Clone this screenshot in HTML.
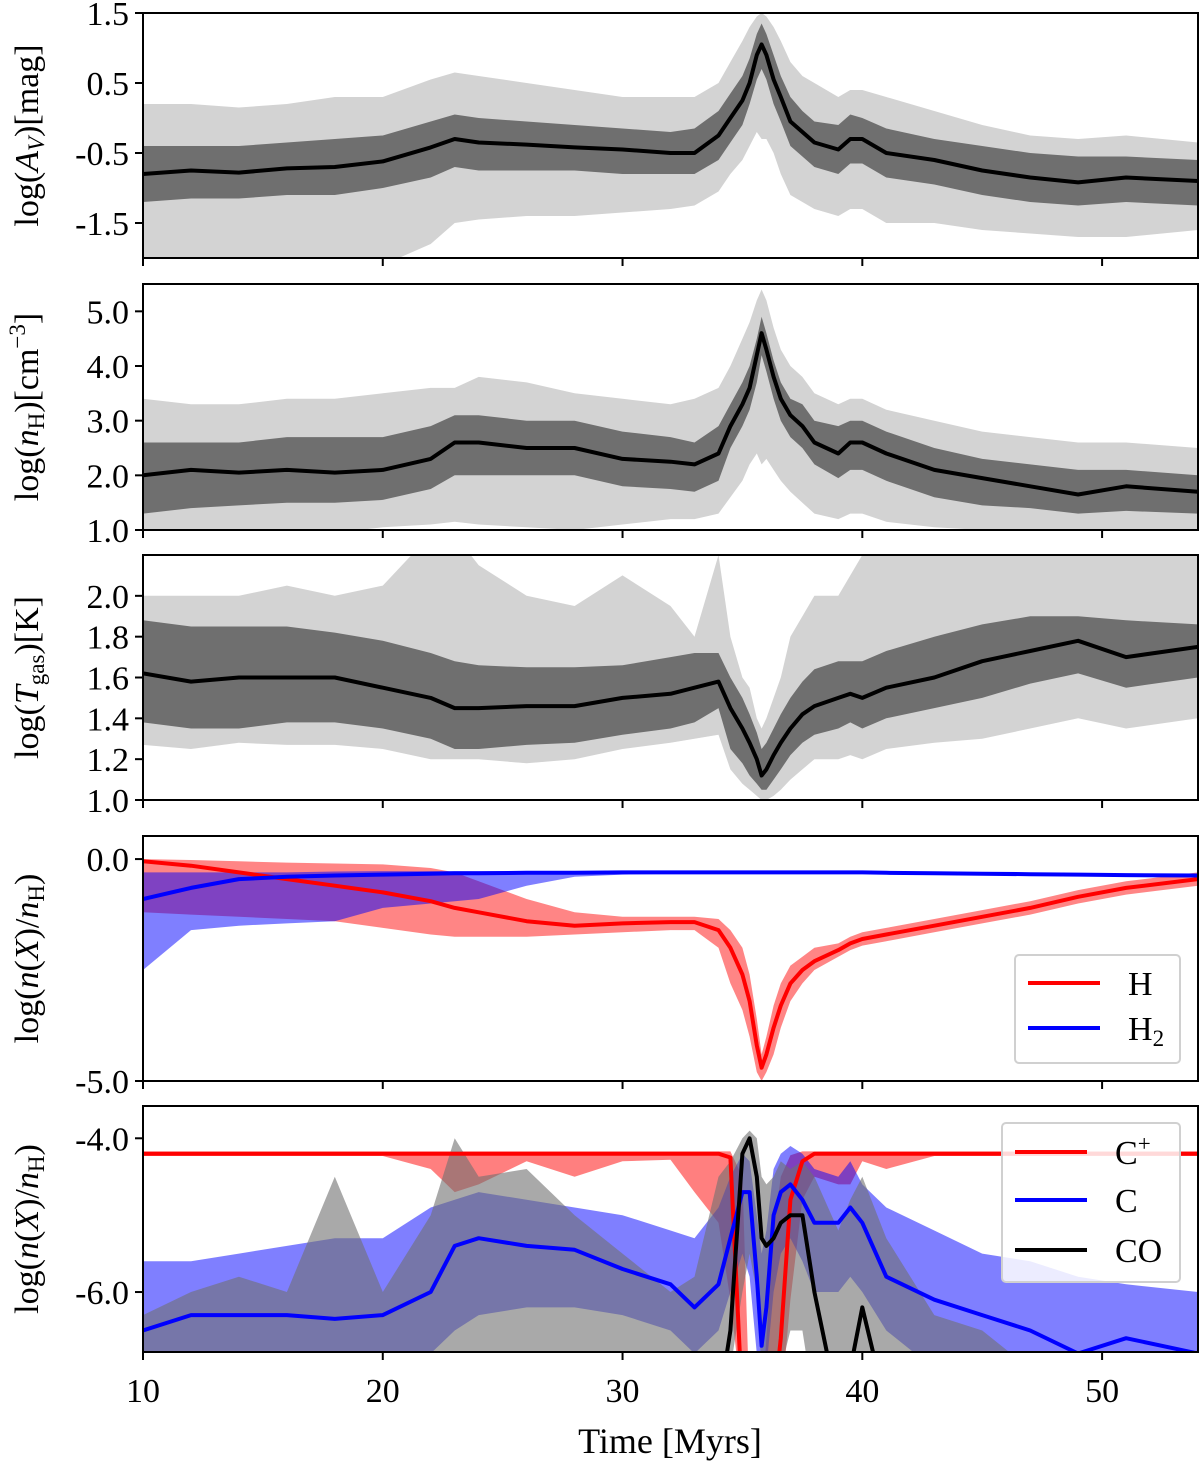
<!DOCTYPE html>
<html><head><meta charset="utf-8"><style>
html,body{margin:0;padding:0;background:#fff}
svg{display:block;font-family:"Liberation Serif",serif}
</style></head><body>
<svg id="chart" width="1200" height="1463" viewBox="0 0 1200 1463" xmlns="http://www.w3.org/2000/svg"></svg>
<script>
const times=[10,12,14,16,18,20,22,23,24,26,28,30,32,33,34,34.5,35,35.3,35.6,35.8,36,36.3,36.6,37,37.5,38,39,39.5,40,41,43,45,47,49,51,54];
const xTicks=[10,20,30,40,50];
// Panel 1: log Av
const avMed=[-0.8,-0.75,-0.78,-0.72,-0.7,-0.62,-0.42,-0.3,-0.35,-0.38,-0.42,-0.45,-0.5,-0.5,-0.25,0.0,0.25,0.5,0.9,1.05,0.9,0.55,0.3,-0.05,-0.2,-0.35,-0.45,-0.3,-0.3,-0.5,-0.6,-0.75,-0.85,-0.92,-0.85,-0.9];
const avInHi=[-0.4,-0.4,-0.4,-0.35,-0.3,-0.25,-0.05,0.05,0.0,-0.05,-0.1,-0.15,-0.2,-0.15,0.1,0.35,0.6,0.85,1.2,1.35,1.2,0.9,0.6,0.3,0.1,-0.05,-0.1,0.05,0.0,-0.15,-0.3,-0.4,-0.5,-0.55,-0.55,-0.6];
const avInLo=[-1.2,-1.15,-1.15,-1.1,-1.1,-1.0,-0.85,-0.7,-0.75,-0.75,-0.75,-0.8,-0.8,-0.8,-0.6,-0.35,-0.1,0.2,0.55,0.7,0.55,0.2,-0.05,-0.4,-0.55,-0.7,-0.8,-0.65,-0.65,-0.85,-0.95,-1.1,-1.2,-1.25,-1.2,-1.25];
const avOutHi=[0.2,0.2,0.15,0.2,0.3,0.3,0.55,0.65,0.6,0.5,0.4,0.3,0.3,0.3,0.5,0.8,1.1,1.3,1.45,1.5,1.45,1.3,1.1,0.8,0.6,0.5,0.3,0.4,0.4,0.3,0.1,-0.1,-0.25,-0.3,-0.25,-0.35];
const avOutLo=[-2.5,-2.4,-2.4,-2.3,-2.3,-2.1,-1.8,-1.5,-1.45,-1.4,-1.4,-1.35,-1.3,-1.25,-1.05,-0.8,-0.6,-0.4,-0.2,-0.3,-0.3,-0.5,-0.8,-1.1,-1.2,-1.3,-1.4,-1.3,-1.3,-1.5,-1.5,-1.6,-1.65,-1.7,-1.7,-1.6];
const avTicks=[1.5,0.5,-0.5,-1.5];
const avTickLabels=["1.5","0.5","-0.5","-1.5"];
// Panel 2: log nH
const nhMed=[2.0,2.1,2.05,2.1,2.05,2.1,2.3,2.6,2.6,2.5,2.5,2.3,2.25,2.2,2.4,2.9,3.3,3.6,4.2,4.6,4.3,3.8,3.4,3.1,2.9,2.6,2.4,2.6,2.6,2.4,2.1,1.95,1.8,1.65,1.8,1.7];
const nhInHi=[2.6,2.6,2.6,2.7,2.7,2.7,2.9,3.1,3.1,3.0,3.0,2.8,2.7,2.6,2.9,3.3,3.7,4.0,4.5,4.9,4.6,4.1,3.7,3.4,3.3,3.0,2.9,3.0,3.0,2.8,2.5,2.3,2.2,2.1,2.1,2.0];
const nhInLo=[1.3,1.4,1.45,1.5,1.5,1.55,1.75,2.0,2.0,2.0,2.0,1.8,1.75,1.7,1.9,2.5,2.9,3.2,3.7,4.2,3.9,3.4,3.0,2.7,2.5,2.2,1.95,2.1,2.1,1.9,1.6,1.45,1.4,1.3,1.35,1.3];
const nhOutHi=[3.4,3.3,3.3,3.4,3.4,3.5,3.6,3.6,3.8,3.7,3.5,3.4,3.3,3.4,3.6,4.0,4.5,4.8,5.2,5.4,5.2,4.7,4.3,4.0,3.8,3.5,3.3,3.4,3.4,3.2,3.0,2.8,2.7,2.6,2.6,2.5];
const nhOutLo=[0.9,0.95,1.0,1.0,0.95,1.05,1.1,1.15,1.1,1.05,1.0,1.1,1.2,1.2,1.3,1.6,1.9,2.2,2.4,2.2,2.3,2.1,1.9,1.7,1.5,1.3,1.2,1.3,1.3,1.15,1.05,1.0,1.0,1.0,1.0,1.0];
const nhTicks=[5,4,3,2,1];
const nhTickLabels=["5.0","4.0","3.0","2.0","1.0"];
// Panel 3: log Tgas
const tgMed=[1.62,1.58,1.6,1.6,1.6,1.55,1.5,1.45,1.45,1.46,1.46,1.5,1.52,1.55,1.58,1.45,1.35,1.28,1.2,1.12,1.15,1.22,1.28,1.35,1.42,1.46,1.5,1.52,1.5,1.55,1.6,1.68,1.73,1.78,1.7,1.75];
const tgInHi=[1.88,1.85,1.85,1.85,1.82,1.78,1.72,1.68,1.66,1.65,1.65,1.66,1.7,1.72,1.72,1.6,1.5,1.42,1.33,1.25,1.28,1.35,1.42,1.5,1.58,1.64,1.68,1.68,1.68,1.73,1.8,1.86,1.9,1.9,1.88,1.86];
const tgInLo=[1.38,1.35,1.35,1.38,1.38,1.35,1.3,1.25,1.25,1.27,1.28,1.32,1.35,1.38,1.45,1.25,1.18,1.12,1.08,1.05,1.05,1.1,1.15,1.22,1.28,1.32,1.35,1.38,1.35,1.4,1.45,1.5,1.57,1.62,1.55,1.6];
const tgOutHi=[2.0,2.0,2.0,2.05,2.0,2.05,2.3,2.3,2.15,2.0,1.95,2.1,1.95,1.8,2.2,1.8,1.6,1.55,1.4,1.35,1.4,1.5,1.6,1.8,1.9,2.0,2.0,2.1,2.2,2.2,2.3,2.3,2.3,2.3,2.2,2.3];
const tgOutLo=[1.27,1.25,1.28,1.27,1.27,1.25,1.2,1.2,1.2,1.18,1.2,1.25,1.28,1.3,1.32,1.15,1.08,1.05,1.02,1.0,1.0,1.02,1.05,1.1,1.15,1.2,1.2,1.22,1.2,1.25,1.28,1.3,1.35,1.4,1.35,1.4];
const tgTicks=[2.0,1.8,1.6,1.4,1.2,1.0];
const tgTickLabels=["2.0","1.8","1.6","1.4","1.2","1.0"];
// Panel 4: H, H2
const hMed=[-0.05,-0.15,-0.3,-0.45,-0.6,-0.75,-0.95,-1.1,-1.2,-1.4,-1.5,-1.45,-1.42,-1.42,-1.6,-2.0,-2.6,-3.2,-4.2,-4.7,-4.4,-3.8,-3.3,-2.8,-2.5,-2.3,-2.05,-1.9,-1.8,-1.7,-1.5,-1.3,-1.1,-0.85,-0.65,-0.45];
const hHi=[0,-0.02,-0.05,-0.08,-0.1,-0.12,-0.2,-0.3,-0.5,-0.9,-1.2,-1.3,-1.3,-1.3,-1.35,-1.6,-2.0,-2.6,-3.6,-4.4,-4.0,-3.3,-2.8,-2.4,-2.2,-2.0,-1.9,-1.75,-1.65,-1.55,-1.35,-1.15,-0.95,-0.7,-0.5,-0.3];
const hLo=[-1.2,-1.25,-1.3,-1.35,-1.4,-1.55,-1.7,-1.75,-1.75,-1.75,-1.7,-1.65,-1.6,-1.6,-2.0,-2.8,-3.4,-4.0,-4.8,-5.0,-4.8,-4.4,-3.8,-3.2,-2.8,-2.5,-2.2,-2.05,-1.95,-1.85,-1.65,-1.45,-1.25,-1.0,-0.8,-0.6];
const h2Med=[-0.9,-0.65,-0.45,-0.4,-0.37,-0.35,-0.33,-0.32,-0.32,-0.31,-0.31,-0.3,-0.3,-0.3,-0.3,-0.3,-0.3,-0.3,-0.3,-0.3,-0.3,-0.3,-0.3,-0.3,-0.3,-0.3,-0.3,-0.3,-0.3,-0.31,-0.32,-0.33,-0.34,-0.35,-0.36,-0.37];
const h2Hi=[-0.3,-0.3,-0.3,-0.3,-0.28,-0.27,-0.27,-0.27,-0.27,-0.27,-0.27,-0.27,-0.27,-0.27,-0.27,-0.27,-0.27,-0.27,-0.27,-0.27,-0.27,-0.27,-0.27,-0.27,-0.27,-0.27,-0.27,-0.27,-0.27,-0.28,-0.29,-0.3,-0.31,-0.32,-0.33,-0.34];
const h2Lo=[-2.5,-1.6,-1.5,-1.45,-1.4,-1.1,-1.0,-0.95,-0.9,-0.6,-0.4,-0.35,-0.33,-0.33,-0.33,-0.33,-0.33,-0.33,-0.33,-0.33,-0.33,-0.33,-0.33,-0.33,-0.33,-0.33,-0.33,-0.33,-0.33,-0.34,-0.35,-0.36,-0.37,-0.38,-0.39,-0.4];
const xhTicks=[0,-5];
const xhTickLabels=["0.0","-5.0"];
// Panel 5: C+, C, CO
const cpMed=[-4.2,-4.2,-4.2,-4.2,-4.2,-4.2,-4.2,-4.2,-4.2,-4.2,-4.2,-4.2,-4.2,-4.2,-4.2,-4.25,-7.5,-7.5,-7.5,-7.5,-7.5,-7.5,-6.6,-4.8,-4.3,-4.2,-4.2,-4.2,-4.2,-4.2,-4.2,-4.2,-4.2,-4.2,-4.2,-4.2];
const cpHi=[-4.17,-4.17,-4.17,-4.17,-4.17,-4.17,-4.17,-4.17,-4.17,-4.17,-4.17,-4.17,-4.17,-4.17,-4.17,-4.17,-4.5,-7.5,-7.5,-7.5,-6.6,-5.2,-4.5,-4.22,-4.17,-4.17,-4.17,-4.17,-4.17,-4.17,-4.17,-4.17,-4.17,-4.17,-4.17,-4.17];
const cpLo=[-4.23,-4.23,-4.23,-4.23,-4.23,-4.23,-4.4,-4.7,-4.6,-4.3,-4.5,-4.3,-4.28,-4.7,-5.1,-6.1,-7.5,-7.5,-7.5,-7.5,-7.5,-7.5,-7.5,-6.1,-4.8,-4.5,-4.6,-4.6,-4.3,-4.4,-4.23,-4.23,-4.23,-4.23,-4.23,-4.23];
const cMed=[-6.5,-6.3,-6.3,-6.3,-6.35,-6.3,-6.0,-5.4,-5.3,-5.4,-5.45,-5.7,-5.9,-6.2,-5.9,-5.3,-4.7,-4.7,-5.8,-6.7,-6.2,-5.0,-4.7,-4.6,-4.8,-5.1,-5.1,-4.9,-5.1,-5.8,-6.1,-6.3,-6.5,-6.8,-6.6,-6.8];
const cHi=[-5.6,-5.6,-5.5,-5.4,-5.3,-5.3,-4.9,-4.8,-4.7,-4.8,-4.9,-5.0,-5.2,-5.3,-4.9,-4.5,-4.2,-4.3,-5.0,-5.5,-5.2,-4.4,-4.2,-4.1,-4.2,-4.4,-4.5,-4.3,-4.6,-4.9,-5.2,-5.5,-5.6,-5.8,-5.9,-6.0];
const cLo=[-7.0,-7.0,-7.0,-7.0,-7.0,-7.0,-6.8,-6.5,-6.3,-6.2,-6.2,-6.3,-6.5,-6.8,-6.5,-6.0,-5.5,-5.8,-6.8,-7.0,-7.0,-6.0,-5.5,-5.3,-5.6,-6.0,-6.0,-5.8,-6.0,-6.5,-7.0,-7.0,-7.2,-7.3,-7.3,-7.3];
const coMed=[-7.5,-7.5,-7.5,-7.5,-7.5,-7.5,-7.5,-6.8,-6.8,-7.5,-7.5,-7.5,-7.5,-7.5,-7.5,-6.5,-4.2,-4.0,-4.5,-5.3,-5.4,-5.3,-5.1,-5.0,-5.0,-6.0,-7.5,-7.0,-6.2,-7.5,-7.5,-7.5,-7.5,-7.5,-7.5,-7.5];
const coHi=[-6.3,-6.0,-5.8,-6.0,-4.5,-6.0,-5.0,-4.0,-4.5,-4.4,-5.0,-5.5,-6.0,-5.8,-4.5,-4.3,-4.0,-3.9,-4.0,-4.5,-4.6,-4.5,-4.3,-4.4,-4.3,-4.5,-5.2,-4.8,-4.5,-5.3,-6.3,-6.5,-7.0,-7.3,-7.5,-7.5];
const coLo=[-7.5,-7.5,-7.5,-7.5,-7.5,-7.5,-7.5,-7.5,-7.5,-7.5,-7.5,-7.5,-7.5,-7.5,-7.5,-7.0,-6.0,-5.5,-6.0,-7.0,-7.5,-7.5,-7.0,-6.5,-6.5,-7.5,-7.5,-7.5,-7.5,-7.5,-7.5,-7.5,-7.5,-7.5,-7.5,-7.5];
const spTicks=[-4,-6];
const spTickLabels=["-4.0","-6.0"];

const NS="http://www.w3.org/2000/svg";
const svg=document.getElementById('chart');
const X0=143,X1=1198,TMIN=10,TMAX=54;
const FS=34;
function xs(t){return X0+(t-TMIN)/(TMAX-TMIN)*(X1-X0);}
function mk(tag,attrs,parent){const e=document.createElementNS(NS,tag);for(const k in attrs)e.setAttribute(k,attrs[k]);(parent||svg).appendChild(e);return e;}

function panel(p){
  const ys=v=>p.top+(p.vmax-v)/(p.vmax-p.vmin)*(p.bot-p.top);
  const g=mk('g',{});
  
  
  const cid='clip-'+p.name;
  const cp=mk('clipPath',{id:cid},g);
  mk('rect',{x:X0,y:p.top,width:X1-X0,height:p.bot-p.top},cp);
  const plot=mk('g',{'clip-path':'url(#'+cid+')'},g);
  p.bands.forEach(b=>{
    let d='';
    times.forEach((t,i)=>{d+=(i?'L':'M')+xs(t).toFixed(1)+','+ys(b.hi[i]).toFixed(1);});
    for(let i=times.length-1;i>=0;i--)d+='L'+xs(times[i]).toFixed(1)+','+ys(b.lo[i]).toFixed(1);
    const e=mk('path',{d:d+'Z',fill:b.fill,'fill-opacity':b.op||1},plot);
    
    
  });
  p.lines.forEach(l=>{
    const pts=times.map((t,i)=>xs(t).toFixed(1)+','+ys(l.v[i]).toFixed(1)).join(' ');
    const e=mk('polyline',{points:pts,fill:'none',stroke:l.color,'stroke-width':4,'stroke-linejoin':'round'},plot);
    
    
  });
  const fr=mk('rect',{x:X0,y:p.top,width:X1-X0,height:p.bot-p.top,fill:'none',stroke:'#000','stroke-width':2},g);
  
  
  xTicks.forEach(t=>{
    const e=mk('line',{x1:xs(t),x2:xs(t),y1:p.bot,y2:p.bot+8,stroke:'#000','stroke-width':2},g);
    
    
    if(p.xlabels){
      const tx=mk('text',{x:xs(t),y:1402,'text-anchor':'middle','font-size':FS},g);
      tx.textContent=String(t);
      
      
    }
  });
  p.ticks.forEach((v,i)=>{
    const e=mk('line',{x1:X0-8,x2:X0,y1:ys(v),y2:ys(v),stroke:'#000','stroke-width':2},g);
    
    
    const tx=mk('text',{x:X0-14,y:ys(v)+12,'text-anchor':'end','font-size':FS},g);
    tx.textContent=p.tickLabels[i];
    
    
  });
  const cy=(p.top+p.bot)/2;
  const yl=mk('text',{x:0,y:0,'text-anchor':'middle','font-size':FS,transform:'translate(38,'+cy+') rotate(-90)'},g);
  yl.innerHTML=p.ylabel;
  
  
  return ys;
}
const OUT='#d3d3d3',IN='#6f6f6f';
panel({name:'av-panel',top:13,bot:258,vmin:-2.0,vmax:1.5,ticks:avTicks,tickLabels:avTickLabels,
  ylabel:'log(<tspan font-style="italic">A</tspan><tspan font-style="italic" font-size="23" dy="6">V</tspan><tspan dy="-6">)[mag]</tspan>',
  bands:[{name:'av-outer-band',hi:avOutHi,lo:avOutLo,fill:OUT},{name:'av-inner-band',hi:avInHi,lo:avInLo,fill:IN}],
  lines:[{name:'av-median-line',v:avMed,color:'#000'}]});
panel({name:'nh-panel',top:284,bot:530,vmin:1.0,vmax:5.5,ticks:nhTicks,tickLabels:nhTickLabels,
  ylabel:'log(<tspan font-style="italic">n</tspan><tspan font-size="23" dy="6">H</tspan><tspan dy="-6">)[cm</tspan><tspan font-size="23" dy="-13">−3</tspan><tspan dy="13">]</tspan>',
  bands:[{name:'nh-outer-band',hi:nhOutHi,lo:nhOutLo,fill:OUT},{name:'nh-inner-band',hi:nhInHi,lo:nhInLo,fill:IN}],
  lines:[{name:'nh-median-line',v:nhMed,color:'#000'}]});
panel({name:'tgas-panel',top:555,bot:800,vmin:1.0,vmax:2.2,ticks:tgTicks,tickLabels:tgTickLabels,
  ylabel:'log(<tspan font-style="italic">T</tspan><tspan font-size="23" dy="6">gas</tspan><tspan dy="-6">)[K]</tspan>',
  bands:[{name:'tgas-outer-band',hi:tgOutHi,lo:tgOutLo,fill:OUT},{name:'tgas-inner-band',hi:tgInHi,lo:tgInLo,fill:IN}],
  lines:[{name:'tgas-median-line',v:tgMed,color:'#000'}]});
const XL='log(<tspan font-style="italic">n</tspan>(<tspan font-style="italic">X</tspan>)/<tspan font-style="italic">n</tspan><tspan font-size="23" dy="6">H</tspan><tspan dy="-6">)</tspan>';
panel({name:'hydrogen-panel',top:836,bot:1081,vmin:-5.0,vmax:0.52,ticks:xhTicks,tickLabels:xhTickLabels,ylabel:XL,
  bands:[{name:'h-band',hi:hHi,lo:hLo,fill:'#ff0000',op:0.48},{name:'h2-band',hi:h2Hi,lo:h2Lo,fill:'#0000ff',op:0.5}],
  lines:[{name:'h-median-line',v:hMed,color:'#ff0000'},{name:'h2-median-line',v:h2Med,color:'#0000ff'}]});
panel({name:'carbon-panel',top:1106,bot:1352,vmin:-6.78,vmax:-3.58,ticks:spTicks,tickLabels:spTickLabels,ylabel:XL,xlabels:true,
  bands:[{name:'cplus-band',hi:cpHi,lo:cpLo,fill:'#ff0000',op:0.5},{name:'c-band',hi:cHi,lo:cLo,fill:'#0000ff',op:0.5},{name:'co-band',hi:coHi,lo:coLo,fill:'#707070',op:0.6}],
  lines:[{name:'cplus-median-line',v:cpMed,color:'#ff0000'},{name:'c-median-line',v:cMed,color:'#0000ff'},{name:'co-median-line',v:coMed,color:'#000'}]});

function legend(name,x,y,w,h,entries){
  const g=mk('g',{});
  
  
  mk('rect',{x:x,y:y,width:w,height:h,rx:4,fill:'#fff','fill-opacity':0.85,stroke:'#d0d0d0','stroke-width':2},g);
  entries.forEach(en=>{
    const ge=mk('g',{},g);
    
    
    mk('line',{x1:en.x1,x2:en.x1+72,y1:en.y,y2:en.y,stroke:en.color,'stroke-width':4},ge);
    const t=mk('text',{x:en.tx,y:en.y+12,'font-size':FS},ge);
    t.innerHTML=en.label;
  });
}
legend('hydrogen-legend',1015,955,165,108,[
  {x1:1028,y:983,tx:1128,color:'#ff0000',label:'H'},
  {x1:1028,y:1028,tx:1128,color:'#0000ff',label:'H<tspan font-size="23" dy="6">2</tspan>'}]);
legend('carbon-legend',1002,1123,178,159,[
  {x1:1015,y:1152,tx:1115,color:'#ff0000',label:'C<tspan font-size="23" dy="-13">+</tspan>'},
  {x1:1015,y:1200,tx:1115,color:'#0000ff',label:'C'},
  {x1:1015,y:1250,tx:1115,color:'#000',label:'CO'}]);
const xt=mk('text',{x:670,y:1453,'text-anchor':'middle','font-size':36});
xt.textContent='Time [Myrs]';


</script>
</body></html>
